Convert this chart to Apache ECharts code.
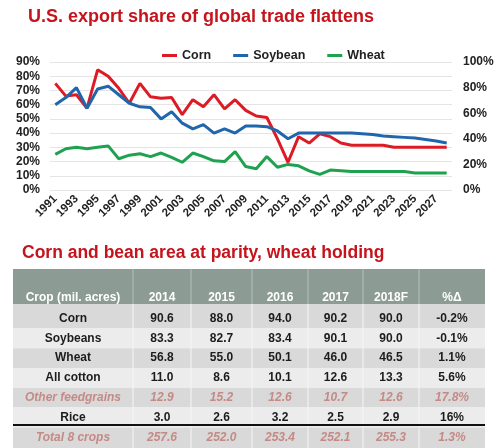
<!DOCTYPE html>
<html>
<head>
<meta charset="utf-8">
<script src="https://cdn.jsdelivr.net/npm/echarts@6/dist/echarts.min.js"></script>
<style>
html,body{margin:0;padding:0;background:#fff;}
#chart{width:500px;height:448px;}
</style>
</head>
<body>
<div id="chart"></div>
<script>
// ---- Line chart data ----
const years = ['1991','1992','1993','1994','1995','1996','1997','1998','1999','2000',
  '2001','2002','2003','2004','2005','2006','2007','2008','2009','2010',
  '2011','2012','2013','2014','2015','2016','2017','2018','2019','2020',
  '2021','2022','2023','2024','2025','2026','2027','2028'];
const corn = [75,66,67,57.5,84.5,80,71.5,61,75,65.5,64.5,65,53,63.5,58.5,67,57,63.5,56,52,
  51,36,19.5,37.5,33,39.5,37.5,33,31.5,31.5,31.5,31.5,30,30,30,30,30,30];
const soybean = [60,65,72,57.5,71,73,67,61,58.5,58,50,55,47,43,46,40,43,40,45,45,
  44.5,41.5,36,40,40,40,40,40,40,39.5,39,38,37.5,37,36.5,35.5,34.5,33];
const wheat = [25,29,30,29,30,31,22,24.5,25.5,23.5,26,23,19.5,26,23.5,20.5,20,27,16.5,15,
  23.5,16,18,17,13.5,11,14,13.5,13,13,13,13,13,13,12,12,12,12];
const seriesNames = ['Corn','Soybean','Wheat'];

// ---- Table data ----
const tableHeader = ['Crop (mil. acres)','2014','2015','2016','2017','2018F','%\u0394'];
const cropNames = ['Corn','Soybeans','Wheat','All cotton','Other feedgrains','Rice','Total 8 crops'];
const acres2014 = [90.6,83.3,56.8,11.0,12.9,3.0,257.6];
const acres2015 = [88.0,82.7,55.0,8.6,15.2,2.6,252.0];
const acres2016 = [94.0,83.4,50.1,10.1,12.6,3.2,253.4];
const acres2017 = [90.2,90.1,46.0,12.6,10.7,2.5,252.1];
const acres2018F = [90.0,90.0,46.5,13.3,12.6,2.9,255.3];
const pctChange = ['-0.2%','-0.1%','1.1%','5.6%','17.8%','16%','1.3%'];
const italicRows = [4,6];

const titleMain = 'U.S. export share of global trade flattens';
const titleTable = 'Corn and bean area at parity, wheat holding';

// ---- layout (not data) ----
const FONT = '"Liberation Sans", Arial, sans-serif';
const colEdges = [13,133,191,252,308,363,419,485];
const headerTop = 269, headerBottom = 304;
const rowCenter0 = 318.5, rowStep = 19.8;
const tableBottom = 448;

const graphics = [];
graphics.push({type:'text', left:28, top:8, style:{text:titleMain, font:'bold 18px '+FONT, fill:'#c5141c'}});
graphics.push({type:'text', left:22, top:244, style:{text:titleTable, font:'bold 17.5px '+FONT, fill:'#c5141c'}});

// header background
graphics.push({type:'rect', shape:{x:colEdges[0], y:headerTop, width:colEdges[7]-colEdges[0], height:headerBottom-headerTop}, style:{fill:'#8c9b94'}});
const columns = [cropNames, acres2014, acres2015, acres2016, acres2017, acres2018F, pctChange];
const nRows = cropNames.length;
// row backgrounds
for (let r = 0; r < nRows; r++) {
  const top = r === 0 ? headerBottom : rowCenter0 + rowStep*(r-0.5);
  const bottom = r === nRows-1 ? tableBottom : rowCenter0 + rowStep*(r+0.5);
  graphics.push({type:'rect', shape:{x:colEdges[0], y:top, width:colEdges[7]-colEdges[0], height:bottom-top},
    style:{fill: (r % 2 === 0) ? '#d9d9d9' : '#ececec'}});
}
// vertical separators
for (let c = 1; c < colEdges.length-1; c++) {
  graphics.push({type:'line', shape:{x1:colEdges[c], y1:headerTop, x2:colEdges[c], y2:headerBottom}, style:{stroke:'#b5bfba', lineWidth:1}});
  graphics.push({type:'line', shape:{x1:colEdges[c], y1:headerBottom, x2:colEdges[c], y2:tableBottom}, style:{stroke:'#f6f6f6', lineWidth:1}});
}
// header text
for (let c = 0; c < tableHeader.length; c++) {
  graphics.push({type:'text', x:(colEdges[c]+colEdges[c+1])/2, y:298,
    style:{text:tableHeader[c], font:'bold 12px '+FONT, fill:'#ffffff', textAlign:'center', textVerticalAlign:'middle'}});
}
// body text
for (let r = 0; r < nRows; r++) {
  const it = italicRows.indexOf(r) >= 0;
  for (let c = 0; c < columns.length; c++) {
    let v = columns[c][r];
    if (typeof v === 'number') v = v.toFixed(1);
    graphics.push({type:'text', x:(colEdges[c]+colEdges[c+1])/2, y:rowCenter0 + rowStep*r,
      style:{text:v, font:(it?'italic ':'')+'bold 12px '+FONT, fill: it ? '#c58a85' : '#1c1c1c',
        textAlign:'center', textVerticalAlign:'middle'}});
  }
}
// black rule above total row
graphics.push({type:'line', shape:{x1:colEdges[0], y1:425, x2:colEdges[7], y2:425}, style:{stroke:'#111', lineWidth:2}});

const chart = echarts.init(document.getElementById('chart'), null, {renderer:'canvas'});
const axisLabelBase = {color:'#222', fontWeight:'bold', fontFamily:FONT};
chart.setOption({
  animation:false,
  backgroundColor:'#fff',
  color:['#dc1b24','#1f66ad','#1fa24f'],
  legend:{
    data:seriesNames, left:157, top:44, itemWidth:15, itemHeight:3, itemGap:22, icon:'rect',
    textStyle:{color:'#222', fontWeight:'bold', fontSize:12.5, fontFamily:FONT}
  },
  grid:{left:50, right:48, top:62, bottom:258, outerBoundsMode:'none'},
  xAxis:{
    type:'category', data:years, boundaryGap:true,
    axisLine:{show:false}, axisTick:{show:false},
    axisLabel:Object.assign({interval:1, rotate:45, fontSize:11.5, margin:7}, axisLabelBase)
  },
  yAxis:[
    {type:'value', min:0, max:90, interval:10, position:'left',
     axisLine:{show:false}, axisTick:{show:false},
     axisLabel:Object.assign({formatter:'{value}%', fontSize:12, margin:10}, axisLabelBase),
     splitLine:{show:true, lineStyle:{color:'#e4e4e4', width:1}}},
    {type:'value', min:0, max:100, interval:20, position:'right',
     axisLine:{show:false}, axisTick:{show:false},
     axisLabel:Object.assign({formatter:'{value}%', fontSize:12, margin:11}, axisLabelBase),
     splitLine:{show:false}}
  ],
  series:[
    {name:seriesNames[0], type:'line', data:corn, yAxisIndex:0, symbol:'none', lineStyle:{width:3}},
    {name:seriesNames[1], type:'line', data:soybean, yAxisIndex:0, symbol:'none', lineStyle:{width:3}},
    {name:seriesNames[2], type:'line', data:wheat, yAxisIndex:0, symbol:'none', lineStyle:{width:3}}
  ],
  graphic:graphics
});
</script>
</body>
</html>
